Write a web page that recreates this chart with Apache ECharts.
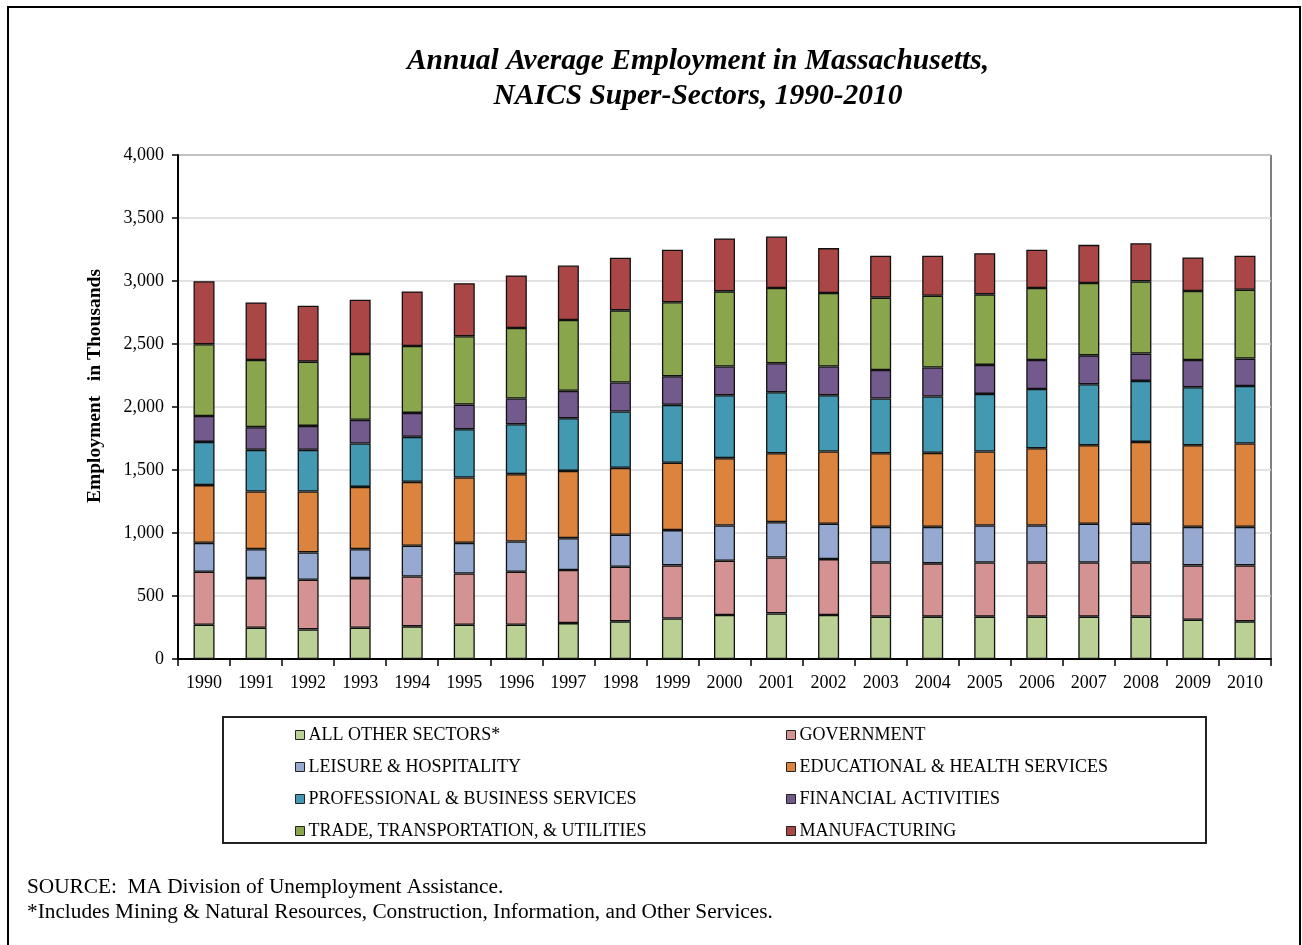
<!DOCTYPE html>
<html>
<head>
<meta charset="utf-8">
<script src="https://cdn.jsdelivr.net/npm/echarts@6/dist/echarts.min.js"></script>
<style>
html,body{margin:0;padding:0;background:#fff;}
#chart{width:1302px;height:945px;}
</style>
</head>
<body>
<div id="chart"></div>
<script>
const years = ['1990','1991','1992','1993','1994','1995','1996','1997','1998','1999','2000','2001','2002','2003','2004','2005','2006','2007','2008','2009','2010'];
const allOther   = [272,248,235,248,259,272,272,285,299,322,349,362,349,336,336,336,336,336,336,312,299];
const government = [420,394,394,394,396,407,420,421,433,421,431,444,444,430,423,430,430,430,430,431,444];
const leisure    = [230,230,217,230,244,243,241,253,254,280,280,280,280,283,290,294,294,307,307,306,306];
const eduHealth  = [458,457,483,494,507,518,534,534,531,534,534,547,574,584,587,587,613,624,650,648,661];
const profBus    = [343,331,331,344,357,384,396,418,447,460,499,484,446,434,447,457,470,483,484,460,457];
const financial  = [206,180,190,188,190,195,204,217,230,227,228,230,228,227,230,230,230,230,217,216,217];
const trade      = [569,533,510,523,531,542,560,563,573,587,597,597,584,574,570,560,571,574,573,548,547];
const manufact   = [501,457,444,430,433,422,417,432,417,417,420,409,356,332,317,327,304,303,303,266,269];
const yTicks = [0,500,1000,1500,2000,2500,3000,3500,4000];

const seriesDefs = [
  ['ALL OTHER SECTORS*', allOther, '#bbd095'],
  ['GOVERNMENT', government, '#d49292'],
  ['LEISURE & HOSPITALITY', leisure, '#96aad1'],
  ['EDUCATIONAL & HEALTH SERVICES', eduHealth, '#dc843e'],
  ['PROFESSIONAL & BUSINESS SERVICES', profBus, '#4399b1'],
  ['FINANCIAL ACTIVITIES', financial, '#735a8d'],
  ['TRADE, TRANSPORTATION, & UTILITIES', trade, '#8aa64c'],
  ['MANUFACTURING', manufact, '#aa4645']
];

const serif = '"Liberation Serif", "Times New Roman", serif';
const chart = echarts.init(document.getElementById('chart'));

const legendCommon = {
  orient: 'vertical',
  itemWidth: 9,
  itemHeight: 9,
  itemGap: 14,
  icon: 'rect',
  selectedMode: false,
  itemStyle: {borderColor: '#222', borderWidth: 1},
  textStyle: {fontFamily: serif, fontSize: 18, color: '#000', padding: [0,0,0,-1], lineHeight: 18}
};

chart.setOption({
  animation: false,
  backgroundColor: '#fff',
  title: {
    text: 'Annual Average Employment in Massachusetts,\nNAICS Super-Sectors, 1990-2010',
    left: 693,
    top: 39,
    textAlign: 'center',
    textStyle: {fontFamily: serif, fontSize: 29.5, fontWeight: 'bold', fontStyle: 'italic', color: '#000', lineHeight: 35}
  },
  grid: {left: 178, right: 31, top: 155, bottom: 286, show: true, borderColor: '#000', borderWidth: 1, containLabel: false},
  legend: [
    Object.assign({}, legendCommon, {left: 290, top: 721, data: [seriesDefs[0][0], seriesDefs[2][0], seriesDefs[4][0], seriesDefs[6][0]]}),
    Object.assign({}, legendCommon, {left: 781, top: 721, data: [seriesDefs[1][0], seriesDefs[3][0], seriesDefs[5][0], seriesDefs[7][0]]})
  ],
  xAxis: {
    type: 'category',
    data: years,
    boundaryGap: true,
    axisLine: {lineStyle: {color: '#000', width: 2}},
    axisTick: {show: true, length: 7, lineStyle: {color: '#000', width: 1.5}},
    axisLabel: {fontFamily: serif, fontSize: 18, color: '#000', margin: 15}
  },
  yAxis: {
    type: 'value',
    min: 0, max: 4000, interval: 500,
    axisLine: {show: true, lineStyle: {color: '#000', width: 2}},
    axisTick: {show: true, length: 6, lineStyle: {color: '#000', width: 1.5}},
    axisLabel: {fontFamily: serif, fontSize: 18, color: '#000', margin: 14,
      formatter: v => yTicks.includes(v) ? v.toLocaleString('en-US') : ''},
    splitLine: {show: true, lineStyle: {color: '#d9d9d9', width: 1.5}}
  },
  graphic: [
    {type: 'rect', shape: {x: 8, y: 7, width: 1292, height: 960}, style: {fill: null, stroke: '#000', lineWidth: 2}, silent: true, z: -1},
    {type: 'rect', shape: {x: 223, y: 717, width: 983, height: 126}, style: {fill: null, stroke: '#222', lineWidth: 2}, silent: true},
    {type: 'text', x: 95, y: 386, rotation: Math.PI/2,
      style: {text: 'Employment   in Thousands', font: 'bold 19.5px ' + serif, fill: '#000', align: 'center', verticalAlign: 'middle'}},
    {type: 'text', x: 27, y: 887,
      style: {text: 'SOURCE:  MA Division of Unemployment Assistance.', font: '21.3px ' + serif, fill: '#000', verticalAlign: 'middle'}},
    {type: 'text', x: 27, y: 912,
      style: {text: '*Includes Mining & Natural Resources, Construction, Information, and Other Services.', font: '21.3px ' + serif, fill: '#000', verticalAlign: 'middle'}}
  ],
  series: seriesDefs.map(([name, data, color]) => ({
    name: name,
    type: 'bar',
    stack: 'total',
    data: data,
    barWidth: 21,
    itemStyle: {color: color, borderColor: '#111', borderWidth: 1.3}
  }))
});
</script>
</body>
</html>
